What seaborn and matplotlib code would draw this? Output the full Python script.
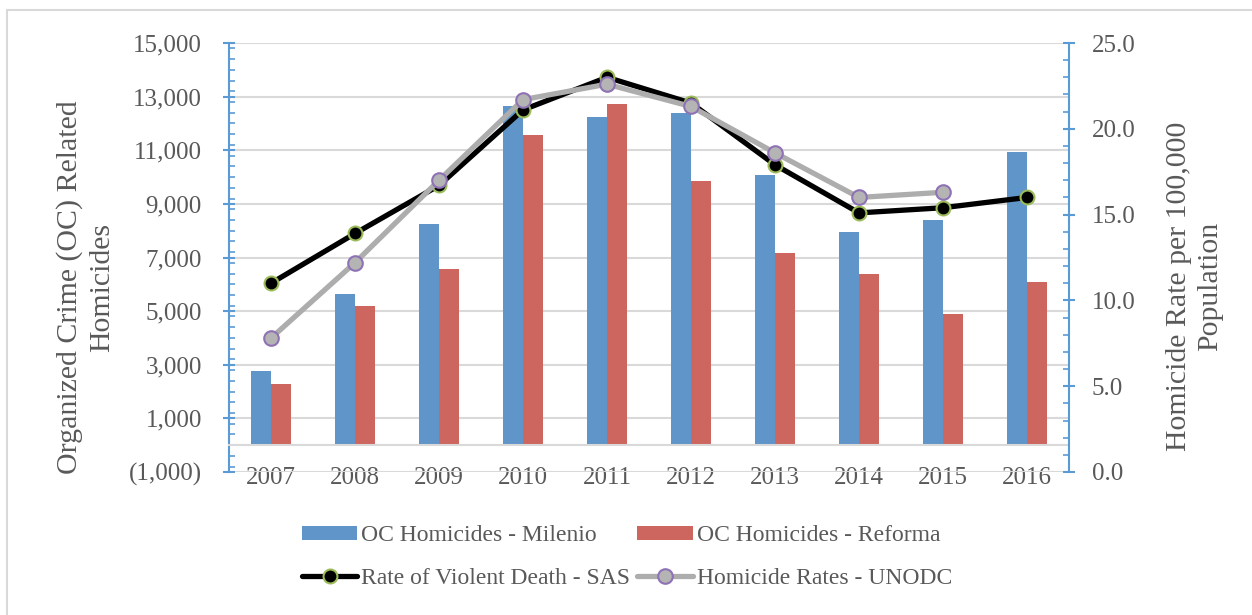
import numpy as np
import pandas as pd
import matplotlib
matplotlib.use("Agg")
import matplotlib.pyplot as plt
from matplotlib.ticker import MultipleLocator, FuncFormatter, FixedLocator
from matplotlib.lines import Line2D
from matplotlib.patches import Patch
import seaborn as sns

# ---- data -------------------------------------------------------------
years = ["2007", "2008", "2009", "2010", "2011", "2012", "2013", "2014", "2015", "2016"]
oc_milenio = [2760, 5630, 8250, 12640, 12250, 12380, 10060, 7960, 8400, 10930]
oc_reforma = [2270, 5190, 6560, 11570, 12740, 9850, 7150, 6380, 4880, 6070]
rate_sas = [11.0, 13.9, 16.7, 21.1, 23.0, 21.5, 17.9, 15.1, 15.4, 16.0]
rate_unodc = [7.8, 12.2, 17.0, 21.7, 22.6, 21.3, 18.6, 16.0, 16.3, np.nan]

label_milenio = "OC Homicides - Milenio"
label_reforma = "OC Homicides - Reforma"
label_sas = "Rate of Violent Death - SAS"
label_unodc = "Homicide Rates - UNODC"

# ---- style ------------------------------------------------------------
sns.set_style("white")
plt.rcParams["font.family"] = ["Liberation Serif", "DejaVu Serif"]
TXT = "#595959"
GRID = "#D9D9D9"
AXBLUE = "#5B9BD5"
BLUE = "#5F95C8"
RED = "#CD665F"

W, H = 1252, 615
fig = plt.figure(figsize=(W / 100, H / 100), dpi=100)
ax = fig.add_axes([229 / W, 1 - 472 / H, (1069 - 229) / W, (472 - 43) / H])

# ---- bars ---------------------------------------------------------------
bars = pd.DataFrame({
    "year": years * 2,
    "count": oc_milenio + oc_reforma,
    "source": [label_milenio] * len(years) + [label_reforma] * len(years),
})
sns.barplot(data=bars, x="year", y="count", hue="source",
            palette=[BLUE, RED], width=0.476, saturation=1,
            linewidth=0, legend=False, ax=ax, zorder=2)

ax.set_xlim(-0.5, len(years) - 0.5)
ax.set_ylim(-1000, 15000)
ax.yaxis.set_major_locator(FixedLocator(np.arange(-1000, 15001, 2000)))
ax.yaxis.set_minor_locator(MultipleLocator(400))
ax.yaxis.set_major_formatter(FuncFormatter(
    lambda v, p: f"({abs(v):,.0f})" if v < 0 else f"{v:,.0f}"))
ax.grid(axis="y", which="major", color=GRID, linewidth=1.5)
ax.grid(axis="x", visible=False)
ax.set_axisbelow(True)
ax.set_xlabel("")
ax.set_ylabel("")

for s in ("top", "right"):
    ax.spines[s].set_visible(False)
ax.spines["left"].set_color(AXBLUE)
ax.spines["left"].set_linewidth(1.5)
ax.spines["bottom"].set_position(("data", 0))
ax.spines["bottom"].set_color(GRID)
ax.spines["bottom"].set_linewidth(1.5)

ax.tick_params(axis="y", which="major", direction="inout", length=9,
               width=1.5, color=AXBLUE, labelsize=18, labelcolor=TXT, pad=15)
ax.tick_params(axis="y", which="minor", direction="in", length=4,
               width=1.2, color=AXBLUE, left=True)
ax.tick_params(axis="x", length=0, labelsize=18, labelcolor=TXT, pad=16)

# ---- rate lines on secondary axis ------------------------------------
ax2 = ax.twinx()
xpos = np.arange(len(years))
sas_df = pd.DataFrame({"x": xpos, "rate": rate_sas}).dropna()
unodc_df = pd.DataFrame({"x": xpos, "rate": rate_unodc}).dropna()

sas_style = dict(color="black", linewidth=3.8, marker="o", markersize=10,
                 markerfacecolor="black", markeredgecolor="#9BBB59",
                 markeredgewidth=1.5)
unodc_style = dict(color="#ADADAD", linewidth=3.8, marker="o", markersize=10.5,
                   markerfacecolor="#B4B4B4", markeredgecolor="#8E72B5",
                   markeredgewidth=1.5)

sns.lineplot(data=sas_df, x="x", y="rate", ax=ax2, zorder=3, **sas_style)
sns.lineplot(data=unodc_df, x="x", y="rate", ax=ax2, zorder=4, **unodc_style)

ax2.set_ylim(0, 25)
ax2.yaxis.set_major_locator(MultipleLocator(5))
ax2.yaxis.set_minor_locator(MultipleLocator(1))
ax2.yaxis.set_major_formatter(FuncFormatter(lambda v, p: f"{v:.1f}"))
ax2.set_xlabel("")
ax2.set_ylabel("")
ax2.grid(False)
for s in ("top", "left", "bottom"):
    ax2.spines[s].set_visible(False)
ax2.spines["right"].set_color(AXBLUE)
ax2.spines["right"].set_linewidth(1.5)
ax2.tick_params(axis="y", which="major", direction="inout", length=9,
                width=1.5, color=AXBLUE, labelsize=18, labelcolor=TXT, pad=12,
                right=True, left=False)
ax2.tick_params(axis="y", which="minor", direction="in", length=4,
                width=1.2, color=AXBLUE, right=True, left=False)
ax.set_xlim(-0.5, len(years) - 0.5)

# ---- axis titles --------------------------------------------------------
fig.text(85.5 / W, 1 - 287 / H, "Organized Crime (OC) Related\nHomicides",
         rotation=90, ha="center", va="center", fontsize=21.5, color=TXT,
         linespacing=1.3, multialignment="center")
fig.text(1194.5 / W, 1 - 286 / H, "Homicide Rate per 100,000\nPopulation",
         rotation=90, ha="center", va="center", fontsize=21.5, color=TXT,
         linespacing=1.3, multialignment="center")

# ---- legend -------------------------------------------------------------
handles = [
    Patch(facecolor=BLUE, edgecolor="none", label=label_milenio),
    Line2D([], [], label=label_sas, **sas_style),
    Patch(facecolor=RED, edgecolor="none", label=label_reforma),
    Line2D([], [], label=label_unodc, **unodc_style),
]
fig.legend(handles=handles, ncol=2, loc="center",
           bbox_to_anchor=(627 / W, 1 - 557 / H), frameon=False,
           fontsize=17, labelcolor=TXT, handlelength=2.35, handleheight=0.55,
           handletextpad=0.17, columnspacing=0.3, labelspacing=0.9,
           borderpad=0, borderaxespad=0)

# ---- chart border (left and top edges) --------------------------------
fig.add_artist(Line2D([7 / W, 7 / W], [0, 1 - 10 / H], color=GRID, linewidth=1.5,
                      transform=fig.transFigure))
fig.add_artist(Line2D([7 / W, 1], [1 - 10 / H, 1 - 10 / H], color=GRID,
                      linewidth=1.5, transform=fig.transFigure))

fig.savefig("out.png", dpi=100, facecolor="white")
